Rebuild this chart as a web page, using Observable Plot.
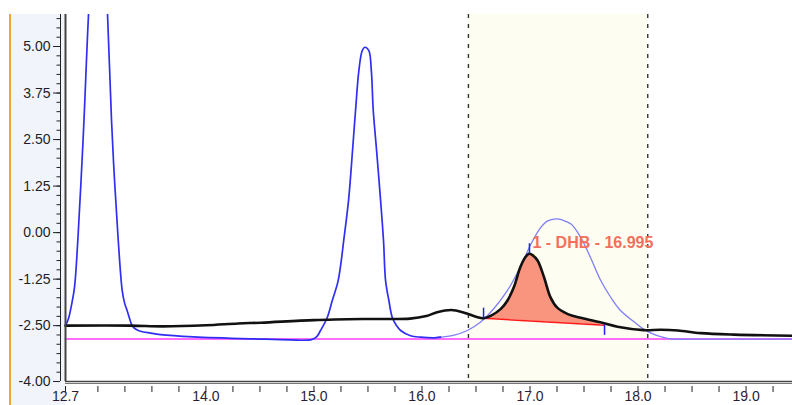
<!DOCTYPE html>
<html>
<head>
<meta charset="utf-8">
<script src="https://cdn.jsdelivr.net/npm/d3@7"></script>
<script src="https://cdn.jsdelivr.net/npm/@observablehq/plot@0.6"></script>
<style>
  html, body { margin: 0; padding: 0; background: #fff; }
  #wrap { position: relative; width: 792px; height: 405px; overflow: hidden; }
  #panel { position: absolute; left: 10px; top: 14px; width: 55px; height: 391px; background: #f1f5fb; }
  #edge { position: absolute; left: 9px; top: 14px; width: 2px; height: 391px; background: #f2a33a; }
  #chart { position: absolute; left: 0; top: 0; }
  #chart svg { background: transparent !important; }
</style>
</head>
<body>
<div id="wrap"><div id="panel"></div><div id="edge"></div><div id="chart"></div></div>
<script>
// ---- axis domains & ticks ----
const xDomain = [12.7, 19.43];
const yDomain = [-4, 5.86];
const xLabelTicks = [12.7, 14, 15, 16, 17, 18, 19];
const xMinorTicks = [12.7, 13, 13.25, 13.5, 13.75, 14, 14.25, 14.5, 14.75, 15, 15.25, 15.5, 15.75, 16, 16.25, 16.5, 16.75, 17, 17.25, 17.5, 17.75, 18, 18.25, 18.5, 18.75, 19, 19.25];
const yLabelTicks = [-4, -2.5, -1.25, 0, 1.25, 2.5, 3.75, 5];
const yMinorTicks = [-4, -3.75, -3.5, -3.25, -3, -2.75, -2.5, -2.25, -2, -1.75, -1.5, -1.25, -1, -0.75, -0.5, -0.25, 0, 0.25, 0.5, 0.75, 1, 1.25, 1.5, 1.75, 2, 2.25, 2.5, 2.75, 3, 3.25, 3.5, 3.75, 4, 4.25, 4.5, 4.75, 5, 5.25, 5.5, 5.75];

// ---- integration window ----
const windowStart = [16.43];
const windowEnd = [18.09];

// ---- black trace (sample chromatogram) ----
const blackX = [12.70,13.30,13.60,14.00,14.30,14.51,15.00,15.50,15.89,16.04,16.14,16.27,16.39,16.50,16.57,16.64,16.73,16.79,16.85,16.91,16.96,16.99,17.02,17.07,17.13,17.19,17.25,17.35,17.47,17.65,17.81,18.05,18.21,18.37,18.58,18.89,19.43];
const blackY = [-2.50,-2.50,-2.52,-2.49,-2.44,-2.42,-2.35,-2.32,-2.31,-2.24,-2.14,-2.08,-2.15,-2.26,-2.30,-2.23,-2.05,-1.83,-1.47,-0.93,-0.65,-0.57,-0.60,-0.75,-1.20,-1.74,-2.01,-2.19,-2.29,-2.41,-2.53,-2.62,-2.61,-2.63,-2.70,-2.74,-2.77];

// ---- dark blue trace ----
const blueX = [12.700,12.728,12.756,12.783,12.816,12.844,12.871,12.894,12.913,12.941,12.969,13.001,13.033,13.061,13.089,13.126,13.154,13.186,13.225,13.246,13.271,13.293,13.318,13.349,13.394,13.487,13.580,13.885,14.506,14.783,14.969,15.024,15.061,15.123,15.169,15.221,15.247,15.274,15.320,15.357,15.385,15.416,15.447,15.471,15.508,15.531,15.549,15.580,15.617,15.644,15.663,15.694,15.725,15.765,15.802,15.894,15.987,16.110,16.172];
const blueY = [-2.50,-2.31,-1.94,-1.48,-0.11,1.40,3.01,4.62,5.86,7.31,8.93,9.36,8.93,7.31,5.86,3.01,1.40,-0.11,-1.56,-1.88,-2.10,-2.31,-2.50,-2.59,-2.65,-2.70,-2.74,-2.80,-2.86,-2.88,-2.88,-2.80,-2.63,-2.28,-1.83,-1.33,-0.88,-0.25,0.86,2.20,3.28,4.36,4.89,4.98,4.89,4.36,3.28,2.20,0.86,-0.22,-1.29,-1.83,-2.28,-2.50,-2.63,-2.77,-2.81,-2.83,-2.81];

// ---- light blue trace ----
const lightX = [16.11,16.17,16.29,16.42,16.54,16.66,16.79,16.91,17.01,17.10,17.16,17.24,17.30,17.38,17.47,17.56,17.65,17.75,17.84,17.96,18.09,18.27,18.58,19.43];
const lightY = [-2.83,-2.81,-2.76,-2.63,-2.41,-2.06,-1.56,-0.93,-0.30,0.14,0.31,0.37,0.34,0.23,-0.13,-0.67,-1.26,-1.75,-2.10,-2.39,-2.66,-2.84,-2.86,-2.86];

// ---- magenta reference line ----
const magentaX = [12.7, 19.43];
const magentaY = [-2.86, -2.86];

// ---- integration baseline & markers ----
const baseX = [16.57, 17.69];
const baseY = [-2.30, -2.49];
const markerX = [16.57, 16.995, 17.69];
const markerY1 = [-2.30, -0.57, -2.49];
const markerY2 = [-2.03, -0.30, -2.76];

// ---- peak label ----
const labelText = ["1 - DHB - 16.995"];
const labelX = [16.995];
const labelY = [-0.28];

const zip = (xs, ys) => xs.map((x, i) => ({x, y: ys[i]}));
const black = zip(blackX, blackY);
const blue = zip(blueX, blueY);
const light = zip(lightX, lightY);
const magenta = zip(magentaX, magentaY);
const base = zip(baseX, baseY);
const baseAt = d3.scaleLinear().domain(baseX).range(baseY);
const peakArea = black.filter(d => d.x >= baseX[0] && d.x <= baseX[1]);
const markers = markerX.map((x, i) => ({x, y1: markerY1[i], y2: markerY2[i]}));
const labels = labelText.map((t, i) => ({t, x: labelX[i], y: labelY[i]}));

const fontFamily = "'Liberation Sans', Arial, sans-serif";
const smooth = "catmull-rom";

const chart = Plot.plot({
  width: 792,
  height: 405,
  marginLeft: 60,
  insetLeft: 5,
  marginRight: 0,
  marginTop: 14,
  marginBottom: 24,
  style: {fontFamily, fontSize: "14px", background: "transparent", overflow: "visible"},
  x: {domain: xDomain},
  y: {domain: yDomain},
  marks: [
    Plot.rect(windowStart.map((s, i) => ({s, e: windowEnd[i]})), {x1: "s", x2: "e", fill: "#fdfdf1"}),
    Plot.ruleX([...windowStart, ...windowEnd], {stroke: "#333", strokeWidth: 1.4, strokeDasharray: "4,6"}),
    Plot.line(magenta, {x: "x", y: "y", stroke: "#ff3dff", strokeWidth: 1.6}),
    Plot.line(light, {x: "x", y: "y", stroke: "#7f7ff8", strokeWidth: 1.3, curve: smooth, clip: true}),
    Plot.line(blue, {x: "x", y: "y", stroke: "#2f2ff2", strokeWidth: 1.7, curve: smooth, clip: true}),
    Plot.areaY(peakArea, {x: "x", y1: d => baseAt(d.x), y2: "y", fill: "#f9957f", curve: smooth}),
    Plot.line(base, {x: "x", y: "y", stroke: "#ff1a1a", strokeWidth: 1.5}),
    Plot.line(black, {x: "x", y: "y", stroke: "#111", strokeWidth: 2.6, curve: smooth}),
    Plot.ruleX(markers, {x: "x", y1: "y1", y2: "y2", stroke: "#1f1fff", strokeWidth: 1.5}),
    Plot.text(labels, {x: "x", y: "y", text: "t", dx: 3, textAnchor: "start", fill: "#f4705e", fontSize: 16, fontWeight: "bold"}),
    // frame & axes
    Plot.ruleX([xDomain[0]], {stroke: "#444", strokeWidth: 2}),
    Plot.ruleX([xDomain[0]], {dx: -5, stroke: "#222", strokeWidth: 1}),
    Plot.ruleY([yDomain[0]], {x1: xDomain[0], x2: xDomain[1], stroke: "#444", strokeWidth: 1.5}),
    Plot.ruleY([yDomain[0]], {x1: xDomain[0], x2: xDomain[1], dy: 2, stroke: "#777", strokeWidth: 1}),
    Plot.axisY(yMinorTicks, {anchor: "left", tickSize: 3.5, tickFormat: () => "", stroke: "#222", label: null}),
    Plot.axisY(yLabelTicks, {anchor: "left", tickSize: 7, tickPadding: 3, tickFormat: d => d.toFixed(2), fill: "#1d1d28", stroke: "#222", fontSize: 14, label: null}),
    Plot.axisX(xMinorTicks, {anchor: "bottom", tickSize: 6, dy: 5, tickFormat: () => "", stroke: "#222", label: null}),
    Plot.axisX(xLabelTicks, {anchor: "bottom", tickSize: 0, tickPadding: 10, tickFormat: d => d.toFixed(1), fill: "#2a1d33", fontSize: 14, label: null})
  ]
});
document.getElementById("chart").appendChild(chart);
</script>
</body>
</html>
